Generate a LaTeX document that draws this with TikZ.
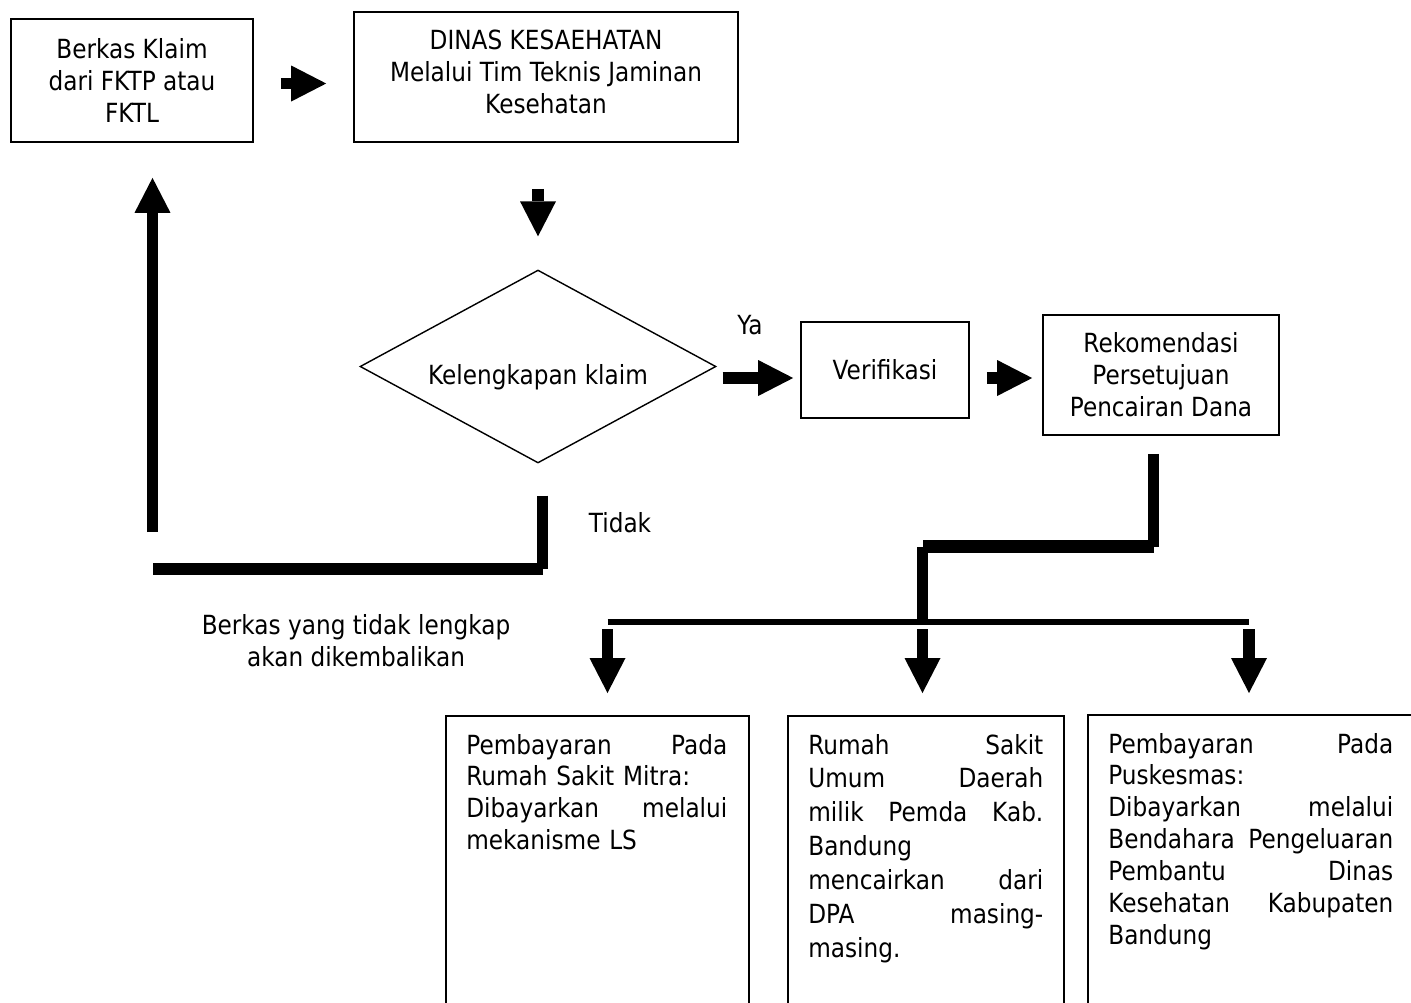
\documentclass[tikz,border=0pt]{standalone}
\usepackage{fontspec}
\setmainfont[FakeStretch=0.88]{DejaVu Sans}
\usetikzlibrary{
  arrows.meta,
  positioning,
  shapes.geometric,
}

\begin{document}
\begin{tikzpicture}[
  x=0.02cm, y=-0.02cm,
  font=\fontsize{15}{18.2}\selectfont,
  box/.style={draw, line width=1pt, inner sep=0pt, align=center},
  decision/.style={draw, diamond, line width=0.8pt, inner sep=0pt},
  flowarrow/.style={line width=0.23cm,
    -{Triangle[length=0.7cm 0 0, width=0.72cm 0 0, line width=0pt]}},
  stem/.style={line width=0.22cm},
  bar/.style={line width=0.25cm},
  bus/.style={line width=0.11cm},
  paytext/.style={anchor=base west, inner sep=0pt, align=left},
]
  % Page: 1411 x 1002 px, 1px = 0.02cm, y runs down
  \useasboundingbox (0,0) rectangle (1411,1002);

  % Top row
  \node[box, minimum width=4.84cm, minimum height=2.46cm] (klaim) at (132,80.5)
    {Berkas Klaim\\dari FKTP atau\\FKTL};
  \node[box, minimum width=7.68cm, minimum height=2.6cm,
    label={[align=center, yshift=0.1cm]center:DINAS KESAEHATAN\\Melalui Tim Teknis Jaminan\\Kesehatan}]
    (dinas) at (546,77) {};

  % Check and the way forward
  \node[decision, minimum width=7.12cm, minimum height=3.86cm,
    label={[yshift=-0.21cm]center:Kelengkapan klaim}] (lengkap) at (538,366.5) {};
  \node[box, minimum width=3.36cm, minimum height=1.92cm] (verif) at (885,370) {Verifikasi};
  \node[box, minimum width=4.72cm, minimum height=2.4cm] (rekom) at (1161,375)
    {Rekomendasi\\Persetujuan\\Pencairan Dana};

  \node (ya) at (750,325) {Ya};
  \node (tidak) at (620,523) {Tidak};
  \node[align=center] (kembali) at (356,641) {Berkas yang tidak lengkap\\akan dikembalikan};

  % Payment boxes (run past the lower edge)
  \node[box, minimum width=6.06cm, minimum height=6cm, anchor=north west] (bayarrs) at (445,715) {};
  \node[box, minimum width=5.52cm, minimum height=6cm, anchor=north west] (bayarrsud) at (787,715) {};
  \node[box, minimum width=6.8cm, minimum height=6cm, anchor=north west] (bayarpkm) at (1087,714) {};

  \node[paytext, text width=5.22cm] (rstext) at (466,754)
    {Pembayaran\hfill Pada\\Rumah Sakit Mitra:\\Dibayarkan\hfill melalui\\mekanisme LS};
  \node[paytext, text width=4.7cm, font=\fontsize{15}{19.3}\selectfont] (rsudtext) at (808,754)
    {Rumah\hfill Sakit\\Umum\hfill Daerah\\milik\hfill Pemda\hfill Kab.\\Bandung\\mencairkan\hfill dari\\DPA\hfill masing-\\masing.};
  \node[paytext, text width=5.7cm] (pkmtext) at (1108,753)
    {Pembayaran\hfill Pada\\Puskesmas:\\Dibayarkan\hfill melalui\\Bendahara\hfill Pengeluaran\\Pembantu\hfill Dinas\\Kesehatan\hfill Kabupaten\\Bandung};

  % Bends of the thick lines
  \coordinate (turnR) at (1153.5,546.5);
  \coordinate (turnL) at (922.5,546.5);
  \coordinate (hub) at (922.5,622);
  \coordinate (busL) at (607.5,622);
  \coordinate (busR) at (1249,622);
  \coordinate (backR) at (542.5,569);
  \coordinate (backL) at (152.5,569);

  % Main flow
  \draw[flowarrow, shorten <=0.54cm, shorten >=0.54cm] (klaim.east |- 0,83.5) -- (dinas.west |- 0,83.5);
  \draw[flowarrow, shorten <=0.92cm, shorten >=0.66cm] (dinas.south -| lengkap.north) -- (lengkap.north);
  \draw[flowarrow, shorten <=0.12cm, shorten >=0.14cm] (lengkap.east |- 0,378) -- (verif.west |- 0,378);
  \draw[flowarrow, shorten <=0.34cm, shorten >=0.2cm] (verif.east |- 0,378) -- (rekom.west |- 0,378);

  % Split to the three payments
  \draw[stem, shorten <=0.36cm] (rekom.south -| turnR) -- (turnR);
  \draw[bar] (turnR) -- (turnL);
  \draw[stem] (turnL) -- (hub);
  \draw[bus] (busL) -- (busR);
  \draw[flowarrow, shorten <=0.14cm, shorten >=0.44cm] (busL) -- (busL |- bayarrs.north);
  \draw[flowarrow, shorten <=0.14cm, shorten >=0.44cm] (hub) -- (hub |- bayarrsud.north);
  \draw[flowarrow, shorten <=0.14cm, shorten >=0.42cm] (busR) -- (busR |- bayarpkm.north);

  % Back to the sender
  \draw[stem, shorten <=0.64cm] (lengkap.south -| backR) -- (backR);
  \draw[bar] (backR) -- (backL);
  \draw[flowarrow, shorten <=0.74cm, shorten >=0.7cm] (backL) -- (klaim.south -| backL);

\end{tikzpicture}
\end{document}
